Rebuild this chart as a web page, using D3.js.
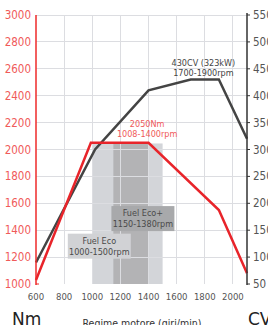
<!DOCTYPE html>
<html>
<head>
<meta charset="utf-8">
<script src="https://cdn.jsdelivr.net/npm/d3@7"></script>
<style>
  body { margin: 0; background: #fff; }
  svg { display: block; font-family: "Liberation Sans Narrow", "DejaVu Sans Condensed", sans-serif; }
  .grid line { stroke: #dcdde1; stroke-width: 1; shape-rendering: crispEdges; }
  .tickL { fill: #f05a5a; font-size: 11.5px; }
  .tickR { fill: #555; font-size: 11.5px; }
  .tickX { fill: #555; font-size: 9.5px; }
</style>
</head>
<body>
<div id="chart"></div>
<script>
// engine curves
var rpmTorque = [600, 990, 1400, 1900, 2100];
var torque = [1030, 2050, 2050, 1550, 1080];        // Nm
var rpmPower = [600, 1020, 1400, 1700, 1900, 2100];
var power = [90, 300, 410, 430, 430, 320];           // CV

var xTicks = [600, 800, 1000, 1200, 1400, 1600, 1800, 2000];
var nmTicks = [1000, 1200, 1400, 1600, 1800, 2000, 2200, 2400, 2600, 2800, 3000];
var cvTicks = [50, 100, 150, 200, 250, 300, 350, 400, 450, 500, 550];

var fuelEco = [1000, 1500];
var fuelEcoPlus = [1150, 1400];

var width = 268, height = 325;
var margin = {top: 15, right: 21, bottom: 41, left: 36};

var x = d3.scaleLinear().domain([600, 2100]).range([margin.left, width - margin.right]);
var yL = d3.scaleLinear().domain([1000, 3000]).range([height - margin.bottom, margin.top]);
var yR = d3.scaleLinear().domain([50, 550]).range([height - margin.bottom, margin.top]);

var svg = d3.select("#chart").append("svg")
        .attr("width", width)
        .attr("height", height);

// shaded fuel eco bands
svg.append("rect")
        .attr("x", x(fuelEco[0]))
        .attr("width", x(fuelEco[1]) - x(fuelEco[0]))
        .attr("y", yL(2045))
        .attr("height", yL(1000) - yL(2045))
        .attr("fill", "#d3d5d9");
svg.append("rect")
        .attr("x", x(fuelEcoPlus[0]))
        .attr("width", x(fuelEcoPlus[1]) - x(fuelEcoPlus[0]))
        .attr("y", yL(2045))
        .attr("height", yL(1000) - yL(2045))
        .attr("fill", "#b3b3b5");

// grid
var grid = svg.append("g").attr("class", "grid");
grid.selectAll(".h")
        .data(nmTicks.slice(1))
        .enter().append("line")
        .attr("x1", x(600)).attr("x2", x(2100))
        .attr("y1", function(d) { return yL(d); })
        .attr("y2", function(d) { return yL(d); });
grid.selectAll(".v")
        .data(xTicks.slice(1))
        .enter().append("line")
        .attr("x1", function(d) { return x(d); })
        .attr("x2", function(d) { return x(d); })
        .attr("y1", yL(3000)).attr("y2", yL(1000));

// label boxes
function labelBox(cx, cy, lines, fill, w) {
        var g = svg.append("g");
        g.append("rect")
                .attr("x", cx - w / 2).attr("y", cy - 12)
                .attr("width", w).attr("height", 25)
                .attr("fill", fill);
        g.selectAll("text")
                .data(lines)
                .enter().append("text")
                .attr("x", cx)
                .attr("y", function(d, i) { return cy - 2 + i * 11; })
                .attr("text-anchor", "middle")
                .attr("font-size", "9px")
                .attr("fill", "#4a4a4a")
                .text(function(d) { return d; });
}
labelBox(x(1360), yL(1490), ["Fuel Eco+", "1150-1380rpm"], "#a8a9ab", 63);
labelBox(x(1050), yL(1285), ["Fuel Eco", "1000-1500rpm"], "#d1d2d5", 63);

// curves
var torqueData = rpmTorque.map(function(r, i) { return [r, torque[i]]; });
var powerData = rpmPower.map(function(r, i) { return [r, power[i]]; });

svg.append("path")
        .datum(powerData)
        .attr("fill", "none")
        .attr("stroke", "#444")
        .attr("stroke-width", 2.5)
        .attr("d", d3.line().x(function(d) { return x(d[0]); }).y(function(d) { return yR(d[1]); }));

svg.append("path")
        .datum(torqueData)
        .attr("fill", "none")
        .attr("stroke", "#e8242a")
        .attr("stroke-width", 2.5)
        .attr("d", d3.line().x(function(d) { return x(d[0]); }).y(function(d) { return yL(d[1]); }));

// annotations
svg.append("text")
        .attr("x", x(1390)).attr("y", yL(2165))
        .attr("text-anchor", "middle").attr("font-size", "9px").attr("fill", "#f05a5a")
        .text("2050Nm");
svg.append("text")
        .attr("x", x(1390)).attr("y", yL(2095))
        .attr("text-anchor", "middle").attr("font-size", "9px").attr("fill", "#f05a5a")
        .text("1008-1400rpm");
svg.append("text")
        .attr("x", x(1790)).attr("y", yR(455))
        .attr("text-anchor", "middle").attr("font-size", "9px").attr("fill", "#444")
        .text("430CV (323kW)");
svg.append("text")
        .attr("x", x(1790)).attr("y", yR(436))
        .attr("text-anchor", "middle").attr("font-size", "9px").attr("fill", "#444")
        .text("1700-1900rpm");

// left axis (Nm)
var axL = svg.append("g").attr("transform", "translate(" + x(600) + ",0)");
axL.append("line")
        .attr("y1", yL(3000)).attr("y2", yL(1000) + 1)
        .attr("stroke", "#ee2a2a").attr("stroke-width", 1.5);
axL.append("line")
        .attr("x1", 0).attr("x2", 3)
        .attr("y1", yL(1000)).attr("y2", yL(1000))
        .attr("stroke", "#ee2a2a");
axL.selectAll("text")
        .data(nmTicks)
        .enter().append("text")
        .attr("class", "tickL")
        .attr("x", -5)
        .attr("y", function(d) { return yL(d); })
        .attr("dy", "0.35em")
        .attr("text-anchor", "end")
        .text(function(d) { return d; });

// right axis (CV)
var axR = svg.append("g").attr("transform", "translate(" + x(2100) + ",0)");
axR.append("line")
        .attr("y1", yR(550) - 2).attr("y2", yR(50) + 1)
        .attr("stroke", "#333").attr("stroke-width", 1.5);
axR.selectAll(".tk")
        .data(cvTicks)
        .enter().append("line")
        .attr("x1", 0).attr("x2", 3)
        .attr("y1", function(d) { return yR(d); })
        .attr("y2", function(d) { return yR(d); })
        .attr("stroke", "#333");
axR.selectAll("text")
        .data(cvTicks)
        .enter().append("text")
        .attr("class", "tickR")
        .attr("x", 6)
        .attr("y", function(d) { return yR(d); })
        .attr("dy", "0.35em")
        .text(function(d) { return d; });

// x tick labels
svg.selectAll(".tickX")
        .data(xTicks)
        .enter().append("text")
        .attr("class", "tickX")
        .attr("x", function(d) { return x(d); })
        .attr("y", yL(1000) + 16)
        .attr("text-anchor", "middle")
        .text(function(d) { return d; });

// unit labels
svg.append("text")
        .attr("x", 12).attr("y", 325)
        .attr("font-size", "17px").attr("fill", "#222")
        .style("font-family", "'DejaVu Sans', sans-serif")
        .text("Nm");
svg.append("text")
        .attr("x", 248).attr("y", 325)
        .attr("font-size", "17px").attr("fill", "#222")
        .style("font-family", "'DejaVu Sans', sans-serif")
        .text("CV");
svg.append("text")
        .attr("x", 142).attr("y", 327)
        .attr("text-anchor", "middle")
        .attr("font-size", "10.5px").attr("fill", "#333")
        .text("Regime motore (giri/min)");
</script>
</body>
</html>
